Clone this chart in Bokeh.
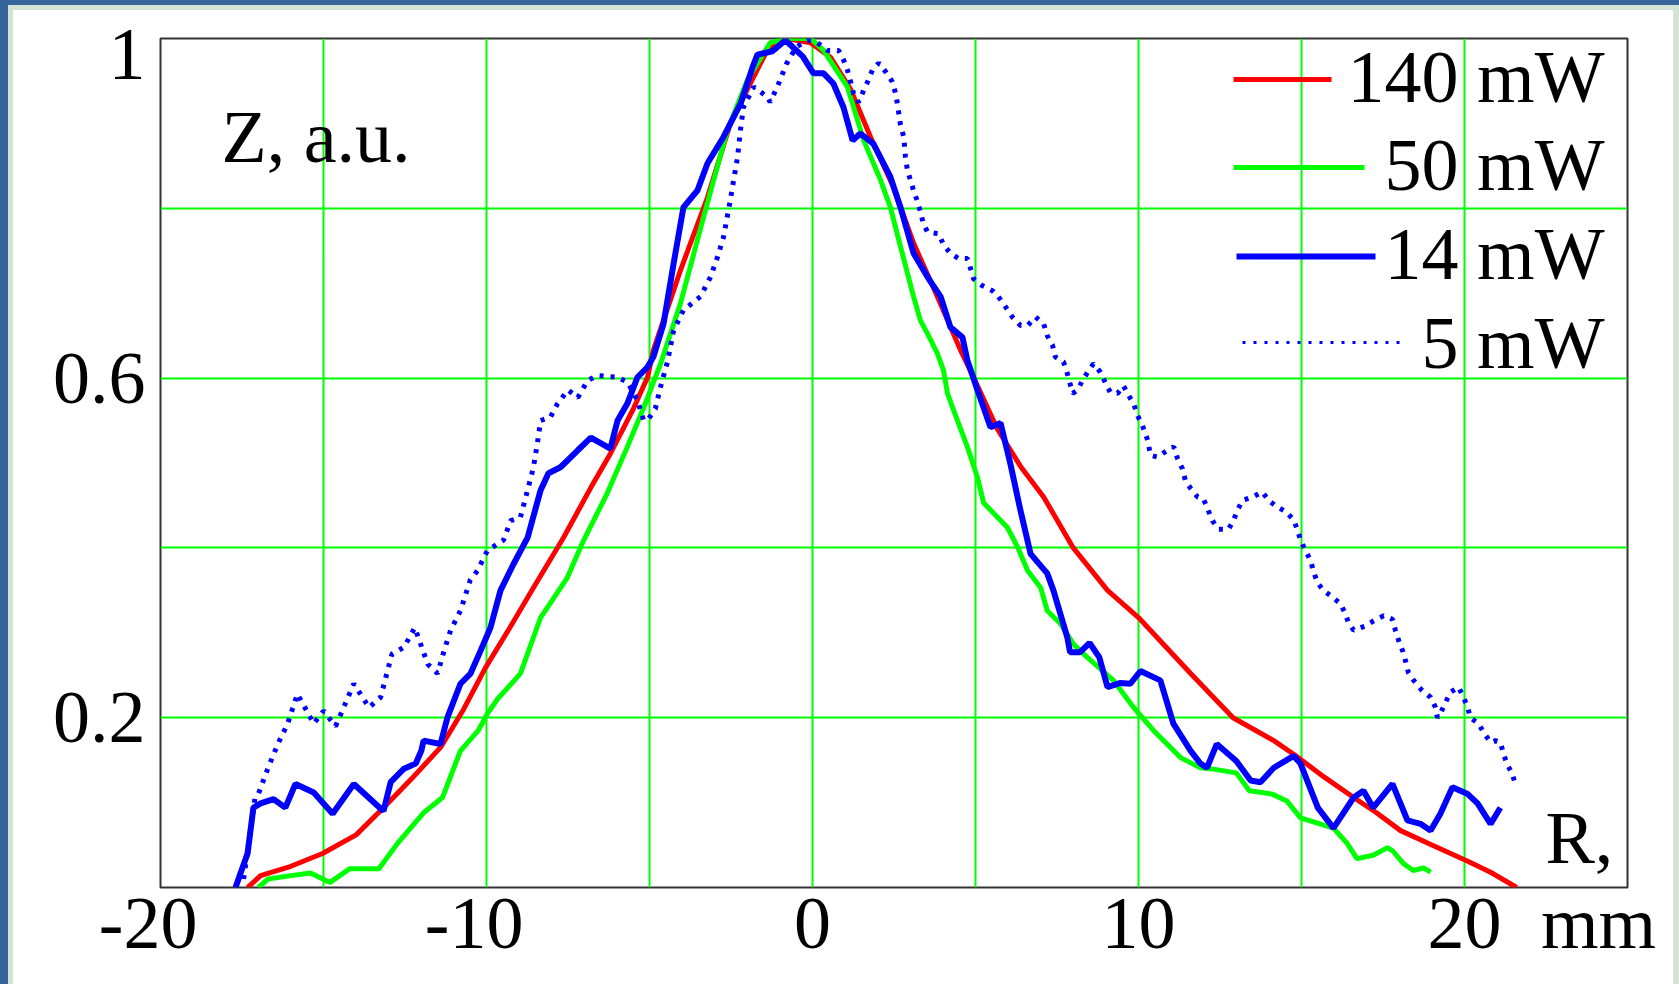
from bokeh.plotting import figure
from bokeh.models import Range1d, FixedTicker, Label, Spacer
from bokeh.layouts import row, column
from bokeh.embed import file_html
from bokeh.resources import INLINE

# ---- radial profiles Z(R), normalised ----
r140_x = [-17.33, -16.93, -16.0, -15.03, -14.0, -13.16, -12.3, -11.41, -10.7, -10.03,
          -9.3, -8.56, -7.64, -6.8, -6.2, -5.48, -5.06, -4.88, -4.05, -3.22, -2.52,
          -2.0, -1.38, -0.8, -0.06, 0.55, 1.17, 1.78, 2.48, 3.1, 3.83, 4.54, 4.94,
          5.67, 6.4, 7.09, 8.0, 9.05, 10.0, 10.8, 11.6, 12.9, 14.15, 14.76, 15.7,
          16.6, 17.3, 18.04, 19.0, 20.1, 20.8, 21.6]
r140_z = [0.0, 0.014, 0.025, 0.04, 0.062, 0.094, 0.128, 0.165, 0.21, 0.259,
          0.305, 0.353, 0.412, 0.471, 0.511, 0.565, 0.601, 0.633, 0.727, 0.813, 0.9,
          0.94, 0.987, 1.0, 0.995, 0.978, 0.94, 0.884, 0.825, 0.759, 0.696, 0.633, 0.601,
          0.54, 0.495, 0.46, 0.4, 0.35, 0.318, 0.285, 0.252, 0.2, 0.173, 0.157, 0.13,
          0.106, 0.088, 0.067, 0.05, 0.031, 0.018, 0.0]

r50_x = [-17.0, -16.7, -16.0, -15.4, -14.8, -14.2, -13.3, -12.73, -11.93, -11.35,
         -10.8, -10.25, -9.97, -9.66, -8.96, -8.34, -7.52, -7.02, -6.3, -5.68, -5.18,
         -4.66, -4.05, -3.34, -2.61, -2.0, -1.3, -0.77, -0.06, 0.34, 1.07, 1.57, 2.09,
         2.39, 2.7, 3.1, 3.31, 3.53, 3.83, 4.02, 4.14, 4.33, 4.75, 5.06, 5.25, 5.98,
         6.29, 6.6, 7.0, 7.2, 7.6, 8.0, 8.43, 9.23, 9.85, 10.46, 11.29, 11.9, 12.2,
         13.0, 13.4, 14.1, 14.55, 14.97, 15.98, 16.4, 16.7, 17.2, 17.64, 17.8, 18.13,
         18.43, 18.74, 18.96]
r50_z = [0.0, 0.01, 0.014, 0.017, 0.006, 0.022, 0.022, 0.052, 0.088, 0.106,
         0.161, 0.185, 0.205, 0.222, 0.252, 0.318, 0.365, 0.409, 0.464, 0.519, 0.565,
         0.617, 0.688, 0.79, 0.892, 0.951, 0.995, 1.0, 1.0, 0.986, 0.943, 0.88, 0.833,
         0.801, 0.755, 0.696, 0.668, 0.652, 0.629, 0.609, 0.582, 0.562, 0.519, 0.483, 0.453, 0.424,
         0.401, 0.373, 0.353, 0.326, 0.311, 0.287, 0.271, 0.244, 0.212, 0.185, 0.153, 0.141, 0.14,
         0.135, 0.114, 0.11, 0.102, 0.082, 0.07, 0.052, 0.034, 0.038, 0.047, 0.043, 0.028,
         0.02, 0.023, 0.018]

r14_x = [-17.7, -17.33, -17.15, -16.93, -16.53, -16.17, -15.86, -15.3, -14.72, -14.07,
         -13.25, -13.16, -12.94, -12.53, -12.17, -12.0, -11.93, -11.41, -11.2, -10.8,
         -10.49, -10.18, -9.88, -9.57, -9.17, -8.74, -8.34, -8.1, -7.73, -7.2, -6.8,
         -6.2, -5.98, -5.68, -5.37, -5.06, -4.88, -4.57, -4.26, -3.96, -3.53, -3.22,
         -2.73, -2.2, -1.84, -1.69, -1.23, -0.83, -0.3, 0.03, 0.34, 0.64, 0.95, 1.23,
         1.47, 1.87, 2.39, 2.7, 3.1, 3.53, 3.93, 4.23, 4.6, 4.75, 5.06, 5.46, 5.77,
         6.07, 6.38, 6.69, 7.2, 7.39, 7.82, 7.9, 8.2, 8.5, 8.8, 9.05, 9.45, 9.75,
         10.06, 10.67, 11.07, 11.6, 11.9, 12.1, 12.4, 13.0, 13.44, 13.74, 14.15, 14.76,
         14.97, 15.5, 15.98, 16.6, 16.9, 17.2, 17.79, 18.25, 18.65, 18.96, 19.26, 19.63,
         20.1, 20.4, 20.8, 21.1]
r14_z = [0.0, 0.04, 0.094, 0.099, 0.104, 0.094, 0.122, 0.112, 0.087, 0.122,
         0.093, 0.09, 0.124, 0.14, 0.146, 0.161, 0.173, 0.169, 0.2, 0.24,
         0.252, 0.279, 0.306, 0.35, 0.381, 0.412, 0.468, 0.488, 0.495, 0.515, 0.53,
         0.517, 0.55, 0.57, 0.601, 0.613, 0.625, 0.664, 0.735, 0.801, 0.821, 0.853,
         0.884, 0.924, 0.966, 0.981, 0.985, 0.998, 0.979, 0.959, 0.959, 0.947, 0.919, 0.88,
         0.888, 0.876, 0.837, 0.801, 0.747, 0.719, 0.696, 0.66, 0.648, 0.621, 0.586, 0.542, 0.547,
         0.499, 0.444, 0.393, 0.37, 0.35, 0.294, 0.277, 0.277, 0.288, 0.271, 0.236, 0.241, 0.24,
         0.255, 0.244, 0.193, 0.161, 0.146, 0.141, 0.169, 0.149, 0.126, 0.124, 0.141, 0.155,
         0.146, 0.094, 0.07, 0.106, 0.114, 0.094, 0.122, 0.079, 0.075, 0.067, 0.087, 0.118,
         0.11, 0.099, 0.075, 0.094]

r5_x = [-17.45, -17.1, -17.0, -16.7, -16.4, -16.1, -15.8, -15.3, -15.0, -14.63, -14.07,
        -13.6, -13.25, -12.9, -12.53, -12.2, -11.8, -11.5, -11.3, -11.1, -10.8, -10.5,
        -10.28, -9.97, -9.48, -9.26, -8.96, -8.74, -8.56, -8.44, -8.34, -8.04, -7.82,
        -7.5, -7.2, -6.9, -6.6, -5.98, -5.67, -5.37, -5.18, -5.03, -4.82, -4.66, -4.45,
        -4.26, -3.96, -3.44, -3.13, -2.91, -2.73, -2.52, -2.42, -2.3, -2.21, -2.12,
        -1.8, -1.38, -1.3, -1.08, -0.8, -0.5, -0.15, 0.15, 0.46, 0.8, 0.95, 1.07, 1.17,
        1.26, 1.41, 1.57, 1.69, 1.84, 2.03, 2.24, 2.45, 2.55, 2.6, 2.7, 2.8, 2.85, 2.91,
        3.1, 3.22, 3.31, 3.4, 3.53, 3.87, 4.02, 4.23, 4.48, 4.75, 4.85, 4.94, 5.2, 5.52,
        5.7, 5.92, 6.13, 6.38, 6.6, 6.84, 7.09, 7.2, 7.36, 7.45, 7.7, 7.82, 7.98, 8.13,
        8.28, 8.44, 8.62, 8.83, 8.99, 9.14, 9.36, 9.54, 9.66, 9.85, 9.97, 10.12, 10.28,
        10.37, 10.58, 10.89, 11.08, 11.2, 11.35, 11.44, 11.6, 11.81, 11.99, 12.12, 12.27,
        12.45, 12.76, 12.91, 13.03, 13.19, 13.5, 13.8, 13.99, 14.26, 14.51, 14.76, 14.88,
        14.97, 15.12, 15.28, 15.37, 15.49, 15.67, 15.95, 16.2, 16.35, 16.44, 16.6, 16.96,
        17.21, 17.52, 17.79, 17.88, 17.98, 18.1, 18.19, 18.28, 18.44, 18.7, 18.96, 19.11,
        19.17, 19.26, 19.42, 19.57, 19.82, 19.97, 20.1, 20.18, 20.43, 20.58, 20.8, 20.95,
        21.1, 21.2, 21.3, 21.46, 21.56]
r5_z = [0.01, 0.106, 0.11, 0.141, 0.169, 0.193, 0.228, 0.193, 0.208, 0.19, 0.24,
        0.212, 0.224, 0.275, 0.283, 0.306, 0.263, 0.252, 0.279, 0.303, 0.326, 0.362,
        0.373, 0.397, 0.409, 0.432, 0.436, 0.468, 0.495, 0.523, 0.55, 0.554, 0.57,
        0.586, 0.577, 0.597, 0.603, 0.601, 0.595, 0.574, 0.55, 0.552, 0.564, 0.59, 0.619,
        0.656, 0.68, 0.696, 0.719, 0.743, 0.766, 0.81, 0.833, 0.86, 0.892, 0.919,
        0.943, 0.931, 0.925, 0.943, 0.97, 0.99, 0.998, 0.995, 0.986, 0.986, 0.975, 0.963, 0.949,
        0.935, 0.925, 0.939, 0.949, 0.963, 0.971, 0.961, 0.949, 0.935, 0.924, 0.898, 0.884, 0.861, 0.845,
        0.821, 0.808, 0.796, 0.782, 0.772, 0.77, 0.757, 0.747, 0.741, 0.741, 0.729, 0.717, 0.709, 0.703,
        0.696, 0.684, 0.672, 0.662, 0.662, 0.672, 0.664, 0.65, 0.639, 0.625, 0.619, 0.605, 0.582, 0.586,
        0.597, 0.607, 0.617, 0.607, 0.594, 0.583, 0.582, 0.591, 0.582, 0.57, 0.556, 0.544, 0.527,
        0.509, 0.507, 0.515, 0.519, 0.505, 0.493, 0.479, 0.47, 0.46, 0.458, 0.446, 0.432,
        0.422, 0.422, 0.432, 0.444, 0.456, 0.46, 0.466, 0.456, 0.448, 0.443, 0.433, 0.421,
        0.409, 0.397, 0.385, 0.372, 0.359, 0.35, 0.342, 0.334, 0.322, 0.312, 0.303, 0.308,
        0.314, 0.32, 0.316, 0.303, 0.291, 0.279, 0.267, 0.253, 0.244, 0.232, 0.224, 0.212,
        0.2, 0.205, 0.218, 0.23, 0.236, 0.224, 0.212, 0.2, 0.193, 0.183, 0.171, 0.173,
        0.171, 0.157, 0.146, 0.134, 0.122]

series_labels = ["140 mW", "50 mW", "14 mW", "5 mW"]

x_ticks = [-20, -10, 0, 10, 20]
x_grid = [-15, -10, -5, 0, 5, 10, 15, 20]
y_ticks = [0.2, 0.6, 0.981]         # top label sits just inside the canvas
y_tick_labels = ["0.2", "0.6", "1"]
y_grid = [0.2, 0.4, 0.6, 0.8]

X0, X1, Y0, Y1 = -20, 25, 0, 1
PAGE_W, PAGE_H = 1679, 984
# window frame around the plot canvas
BLUE, PALE = "#35659a", "#d3e3d5"
EDGE_L, EDGE_T = 8, 5           # dark outer strips
PAD_L, PAD_T, PAD_R = 5, 5, 6   # pale inner strips
OX, OY = EDGE_L + PAD_L, EDGE_T + PAD_T      # canvas origin on the page
CW, CH = PAGE_W - OX - PAD_R, PAGE_H - OY

L, R, T, B = 160, 1627, 38, 887          # frame edges on the page, in pixels

SERIF = "Liberation Serif"
FS = "74px"
BASELINE_FIX = 26   # Label alphabetic baseline correction, px
HANG = "\u2004"     # three-per-em space: balances the hyphen so digits centre on the tick


def dx(px):
    """page x pixel -> data x"""
    return X0 + (px - L) * (X1 - X0) / (R - L)


def dy(py):
    """page y pixel -> data y"""
    return Y0 + (B - py) * (Y1 - Y0) / (B - T)


p = figure(width=CW, height=CH, x_range=Range1d(X0, X1), y_range=Range1d(Y0, Y1),
           output_backend="svg", toolbar_location=None,
           min_border_left=L - OX, min_border_right=(OX + CW) - R,
           min_border_top=T - OY, min_border_bottom=PAGE_H - B)
p.background_fill_color = "white"
p.border_fill_color = "white"
p.outline_line_color = "#333333"
p.outline_line_width = 2

# grid
p.xgrid.ticker = FixedTicker(ticks=x_grid)
p.ygrid.ticker = FixedTicker(ticks=y_grid)
for g in (p.xgrid, p.ygrid):
    g.grid_line_color = "#00ff00"
    g.grid_line_width = 2

# axes: only the labels are shown, the frame outline does the rest
MM_POS = dx(1598)   # unit caption placed as an extra x label
p.xaxis.ticker = FixedTicker(ticks=x_ticks + [MM_POS])
p.xaxis.major_label_overrides = {**{t: (str(t) + HANG if t < 0 else str(t)) for t in x_ticks},
                                 MM_POS: "mm"}
p.yaxis.ticker = FixedTicker(ticks=y_ticks)
p.yaxis.major_label_overrides = dict(zip(y_ticks, y_tick_labels))
for ax in (p.xaxis, p.yaxis):
    ax.axis_line_color = None
    ax.major_tick_line_color = None
    ax.minor_tick_line_color = None
    ax.major_label_text_font = SERIF
    ax.major_label_text_font_size = FS
    ax.major_label_text_color = "black"
p.yaxis.major_label_standoff = 9
p.xaxis.major_label_standoff = -12

# curves
styles = [
    (r140_x, r140_z, "#ff0000", 5.0, "solid"),
    (r50_x, r50_z, "#00ff00", 5.0, "solid"),
    (r14_x, r14_z, "#0000ff", 6.0, "solid"),
    (r5_x, r5_z, "#0000ff", 5.0, "4 7"),
]
for xs, zs, col, lw, dash in styles:
    p.line(xs, zs, line_color=col, line_width=lw, line_dash=dash)


def text(txt, px, py, align):
    p.add_layout(Label(x=dx(px), y=dy(py - BASELINE_FIX), text=txt, text_align=align,
                       text_baseline="alphabetic", text_font=SERIF,
                       text_font_size=FS, text_color="black"))


# legend: sample line, then right-aligned caption
legend_rows = [  # (x start px, x end px, line y px, baseline px, width, dash)
    (1233, 1331, 79, 102, 5.0, "solid"),
    (1233, 1364, 167, 190, 5.0, "solid"),
    (1236, 1375, 256, 279, 6.0, "solid"),
    (1242, 1404, 342, 368, 3.0, "3 8"),
]
for (x0, x1, ly, bl, lw, dash), (_, _, col, _, _), lab in zip(legend_rows, styles, series_labels):
    p.line([dx(x0), dx(x1)], [dy(ly), dy(ly)], line_color=col, line_width=lw, line_dash=dash)
    text(lab, 1604, bl, "right")

# axis captions inside the frame
text("Z, a.u.", 221, 162, "left")
text("R,", 1545, 863, "left")


def strip(w, h, col):
    return Spacer(width=w, height=h, styles={"background-color": col})


page = column(
    strip(PAGE_W, EDGE_T, BLUE),
    row(
        strip(EDGE_L, PAGE_H - EDGE_T, BLUE),
        column(
            strip(PAGE_W - EDGE_L, PAD_T, PALE),
            row(strip(PAD_L, CH, PALE), p, strip(PAD_R, CH, PALE)),
        ),
    ),
)

open("out.html", "w").write(file_html(page, INLINE))
